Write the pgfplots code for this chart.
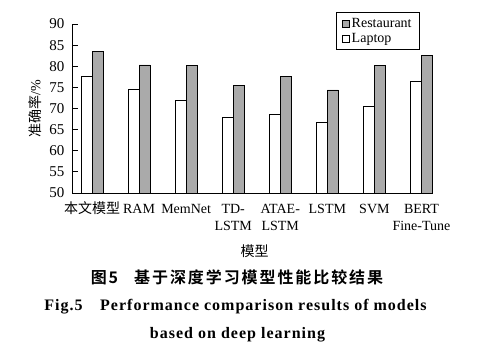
\documentclass[border=0pt]{standalone}
\usepackage{pgfplots}
\pgfplotsset{compat=1.18}
\usepackage{fontspec}
\setmainfont{Liberation Serif}
\newfontfamily\cjk{Noto Sans CJK SC}
\newfontfamily\cjkb[LetterSpace=12]{Noto Sans CJK SC Bold}
\newfontfamily\capfont[LetterSpace=6.3]{Liberation Serif Bold}
\definecolor{barGray}{RGB}{170,170,170}
\newcommand{\two}[2]{\begin{tabular}[t]{@{}c@{}}#1\\#2\end{tabular}}
\begin{document}
\begin{tikzpicture}
\path[use as bounding box] (0pt,0pt) rectangle (477pt,-353pt);
\begin{axis}[
  at={(72pt,-193pt)}, anchor=south west,
  scale only axis, width=361pt, height=169pt,
  xmin=-0.425, xmax=7.245,
  ymin=50, ymax=90,
  ytick={50,55,...,90},
  xtick={0,1,...,7},
  xticklabels={{\cjk 本文模型}, RAM, MemNet, {\two{TD-}{LSTM}}, {\two{ATAE-}{LSTM}}, LSTM, SVM, {\two{BERT}{Fine-Tune}}},
  axis x line*=bottom, axis y line*=left,
  axis line style={-, black, line width=0.8pt},
  tick align=inside, major tick length=6pt,
  xtick style={draw=none},
  ytick style={black, line width=0.8pt},
  /pgf/number format/assume math mode=true,
  yticklabel style={font=\fontsize{15}{17}\selectfont, xshift=-4pt},
  xticklabel style={font=\fontsize{14}{17}\selectfont, anchor=base, yshift=-14.5pt},
  ybar=0pt, bar width=11pt,
  xlabel={\cjk 模型},
  xlabel style={font=\fontsize{14}{17}\selectfont, at={(axis description cs:0.5,0)}, anchor=center, yshift=-58pt, xshift=2pt},
  ylabel={{\cjk 准确率}/\%},
  ylabel style={font=\fontsize{14}{17}\selectfont, at={(axis description cs:-0.1025,0.5)}, anchor=center},
  legend style={at={(0.964,1.071)}, anchor=north east, draw=black, line width=0.8pt,
    font=\fontsize{14}{15}\selectfont, inner xsep=6pt, inner ysep=4pt, row sep=0pt},
  legend cell align=left,
  reverse legend,
  legend image code/.code={\draw[#1, draw=black, line width=0.6pt] (0pt,-3.5pt) rectangle (7pt,3.5pt);},
]
\addplot[draw=black, line width=0.8pt, fill=white] coordinates {
  (0,77.7) (1,74.6) (2,71.9) (3,67.8) (4,68.6) (5,66.8) (6,70.6) (7,76.5)};
\addlegendentry{Laptop}
\addplot[draw=black, line width=0.8pt, fill=barGray] coordinates {
  (0,83.4) (1,80.3) (2,80.1) (3,75.4) (4,77.6) (5,74.4) (6,80.2) (7,82.6)};
\addlegendentry{Restaurant}
\end{axis}
\node[anchor=base, font=\fontsize{16}{18}\selectfont] at (237pt,-283pt) {{\cjkb 图5}\hspace{1em}{\cjkb 基于深度学习模型性能比较结果}};
\node[anchor=base, font=\fontsize{16}{18}\selectfont] at (235.5pt,-310pt) {\capfont Fig.5\hspace{1.1em}Performance comparison results of models};
\node[anchor=base, font=\fontsize{16}{18}\selectfont] at (237.5pt,-338pt) {\capfont based on deep learning};
\end{tikzpicture}
\end{document}
